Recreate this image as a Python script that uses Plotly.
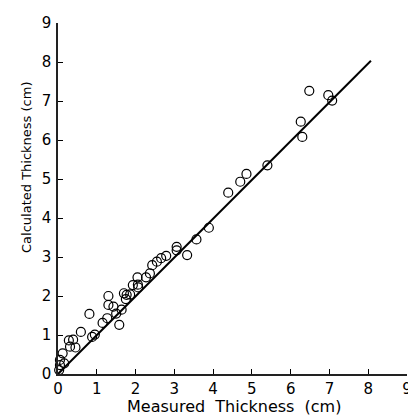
import plotly.graph_objects as go

measured = [0.03, 0.05, 0.16, 0.05, 0.12, 0.28, 0.39, 0.31, 0.45, 0.59,
            0.81, 0.88, 0.95, 1.15, 1.27, 1.30, 1.30, 1.43, 1.50, 1.58,
            1.64, 1.70, 1.77, 1.75, 1.86, 1.93, 2.06, 2.05, 2.07, 2.27,
            2.37, 2.43, 2.55, 2.66, 2.79, 3.06, 3.06, 3.33, 3.57, 3.89,
            4.39, 4.70, 4.86, 5.40, 6.26, 6.30, 6.48, 6.97, 7.07]
calculated = [0.10, 0.23, 0.27, 0.36, 0.53, 0.86, 0.88, 0.70, 0.68, 1.08,
              1.54, 0.95, 1.01, 1.31, 1.43, 1.77, 2.00, 1.73, 1.55, 1.26,
              1.65, 2.07, 2.03, 1.92, 2.04, 2.28, 2.29, 2.48, 2.22, 2.48,
              2.58, 2.79, 2.88, 2.97, 3.03, 3.17, 3.26, 3.05, 3.45, 3.75,
              4.65, 4.93, 5.13, 5.35, 6.47, 6.08, 7.26, 7.15, 7.01]
fit_x = [0.0, 8.07]
fit_y = [0.0, 8.03]
ticks = [0, 1, 2, 3, 4, 5, 6, 7, 8, 9]
x_title = "Measured  Thickness  (cm)"
y_title = "Calculated Thickness (cm)"

fig = go.Figure()
fig.add_trace(go.Scatter(x=fit_x, y=fit_y, mode="lines",
                         line=dict(color="black", width=2), cliponaxis=False,
                         showlegend=False))
fig.add_trace(go.Scatter(x=measured, y=calculated, mode="markers",
                         marker=dict(symbol="circle-open", size=9,
                                     color="black", line=dict(width=1.2)),
                         cliponaxis=False, showlegend=False))

axis_common = dict(
    showgrid=False, zeroline=False, showline=True, linecolor="#222",
    linewidth=1.5, ticks="inside", ticklen=5, tickwidth=1.2, tickcolor="black",
    tickvals=ticks, ticktext=[str(t) for t in ticks],
    tickfont=dict(family="DejaVu Sans", size=15, color="black"),
    mirror=False, automargin=False,
)
fig.update_xaxes(range=[0, 9], ticklabelstandoff=0, **axis_common)
fig.update_yaxes(range=[0, 9], ticklabelstandoff=2, **axis_common)
fig.add_annotation(text=y_title, xref="paper", yref="paper", x=0, y=0.587,
                   xshift=-31, textangle=-90, showarrow=False,
                   xanchor="center", yanchor="middle",
                   font=dict(family="DejaVu Sans", size=13, color="black"))
fig.add_annotation(text=x_title, xref="paper", yref="paper", x=0.503, y=0,
                   yshift=-32, showarrow=False,
                   xanchor="center", yanchor="middle",
                   font=dict(family="DejaVu Sans", size=16, color="black"))
fig.update_layout(width=408, height=408, plot_bgcolor="white",
                  paper_bgcolor="white",
                  margin=dict(l=50, r=9, t=15, b=42))
fig.write_html("out.html")
